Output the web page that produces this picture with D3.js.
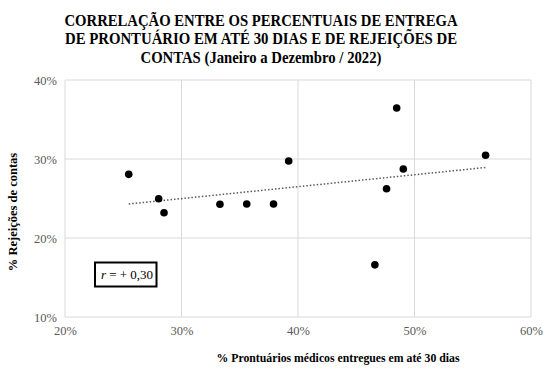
<!DOCTYPE html>
<html><head><meta charset="utf-8">
<script src="https://cdn.jsdelivr.net/npm/d3@7"></script>
<style>body{margin:0;background:#fff}svg{display:block}</style>
</head><body>
<svg id="c" width="556" height="371"></svg>
<script>
const titleLines = ["CORRELAÇÃO ENTRE OS PERCENTUAIS DE ENTREGA","DE PRONTUÁRIO EM ATÉ 30 DIAS E DE REJEIÇÕES DE","CONTAS  (Janeiro a Dezembro / 2022)"];
const xTitle = "% Prontuários médicos entregues em até 30 dias";
const yTitle = "% Rejeições de contas";
const xTicks = [0.2,0.3,0.4,0.5,0.6];
const yTicks = [0.1,0.2,0.3,0.4];
const entregas = [0.2547,0.2804,0.2850,0.3330,0.3560,0.3790,0.3920,0.4660,0.4760,0.4847,0.4904,0.5610];
const rejeicoes = [0.2806,0.2497,0.2320,0.2427,0.2430,0.2430,0.2975,0.1660,0.2624,0.3646,0.2873,0.3047];
const rLabel = "+ 0,30";

const svg = d3.select("#c");
const x = d3.scaleLinear().domain([0.2,0.6]).range([65,531]);
const y = d3.scaleLinear().domain([0.1,0.4]).range([317,80]);
const fmt = d3.format(".0%");
const serif = "Liberation Serif, Times New Roman, serif";

// title
const titleW = [393,392,241];
svg.append("g").selectAll("text").data(titleLines).join("text")
  .attr("x",261).attr("y",(d,i)=>26+i*18.3)
  .attr("text-anchor","middle").attr("font-family",serif).attr("font-weight","bold")
  .attr("font-size",16).attr("fill","#000")
  .attr("textLength",(d,i)=>titleW[i]).attr("lengthAdjust","spacingAndGlyphs")
  .text(d=>d);

// grid
const g = svg.append("g");
g.selectAll(".gx").data(xTicks).join("line").attr("x1",d=>x(d)).attr("x2",d=>x(d))
  .attr("y1",y(0.1)).attr("y2",y(0.4)).attr("stroke","#d9d9d9").attr("stroke-width",1);
g.selectAll(".gy").data(yTicks).join("line").attr("y1",d=>y(d)).attr("y2",d=>y(d))
  .attr("x1",x(0.2)).attr("x2",x(0.6)).attr("stroke","#d9d9d9").attr("stroke-width",1);

// axes labels via d3 axes
const xa = svg.append("g").attr("transform",`translate(0,${y(0.1)})`)
  .call(d3.axisBottom(x).tickValues(xTicks).tickFormat(fmt).tickSize(0).tickPadding(9));
const ya = svg.append("g").attr("transform",`translate(${x(0.2)},0)`)
  .call(d3.axisLeft(y).tickValues(yTicks).tickFormat(fmt).tickSize(0).tickPadding(8));
[xa,ya].forEach(a=>{a.select(".domain").remove();
  a.selectAll("text").attr("font-family",serif).attr("font-size",12.5).attr("fill","#595959");});

// trendline (least squares)
const n = entregas.length;
const mx = d3.mean(entregas), my = d3.mean(rejeicoes);
let sxy=0,sxx=0; for(let i=0;i<n;i++){sxy+=(entregas[i]-mx)*(rejeicoes[i]-my);sxx+=(entregas[i]-mx)**2;}
const b = sxy/sxx, a0 = my-b*mx;
const x0 = d3.min(entregas), x1 = d3.max(entregas);
svg.append("line").attr("x1",x(x0)).attr("y1",y(a0+b*x0)).attr("x2",x(x1)).attr("y2",y(a0+b*x1))
  .attr("stroke","#595959").attr("stroke-width",1.5).attr("stroke-dasharray","1.5,2");

// points
svg.append("g").selectAll("circle").data(entregas).join("circle")
  .attr("cx",d=>x(d)).attr("cy",(d,i)=>y(rejeicoes[i])).attr("r",3.8).attr("fill","#000");

// r box
svg.append("rect").attr("x",95).attr("y",262.5).attr("width",61.5).attr("height",24)
  .attr("fill","#fff").attr("stroke","#000").attr("stroke-width",2);
const rt = svg.append("text").attr("x",127).attr("y",279).attr("text-anchor","middle")
  .attr("font-family",serif).attr("font-size",13).attr("fill","#000");
rt.append("tspan").attr("font-style","italic").text("r");
rt.append("tspan").text(" = " + rLabel);

// axis titles
svg.append("text").attr("x",338).attr("y",362).attr("text-anchor","middle")
  .attr("font-family",serif).attr("font-weight","bold").attr("font-size",12.5)
  .attr("textLength",243).attr("lengthAdjust","spacingAndGlyphs").text(xTitle);
svg.append("text").attr("transform","translate(17,212) rotate(-90)").attr("text-anchor","middle")
  .attr("font-family",serif).attr("font-weight","bold").attr("font-size",12.5).text(yTitle);
</script>
</body></html>
